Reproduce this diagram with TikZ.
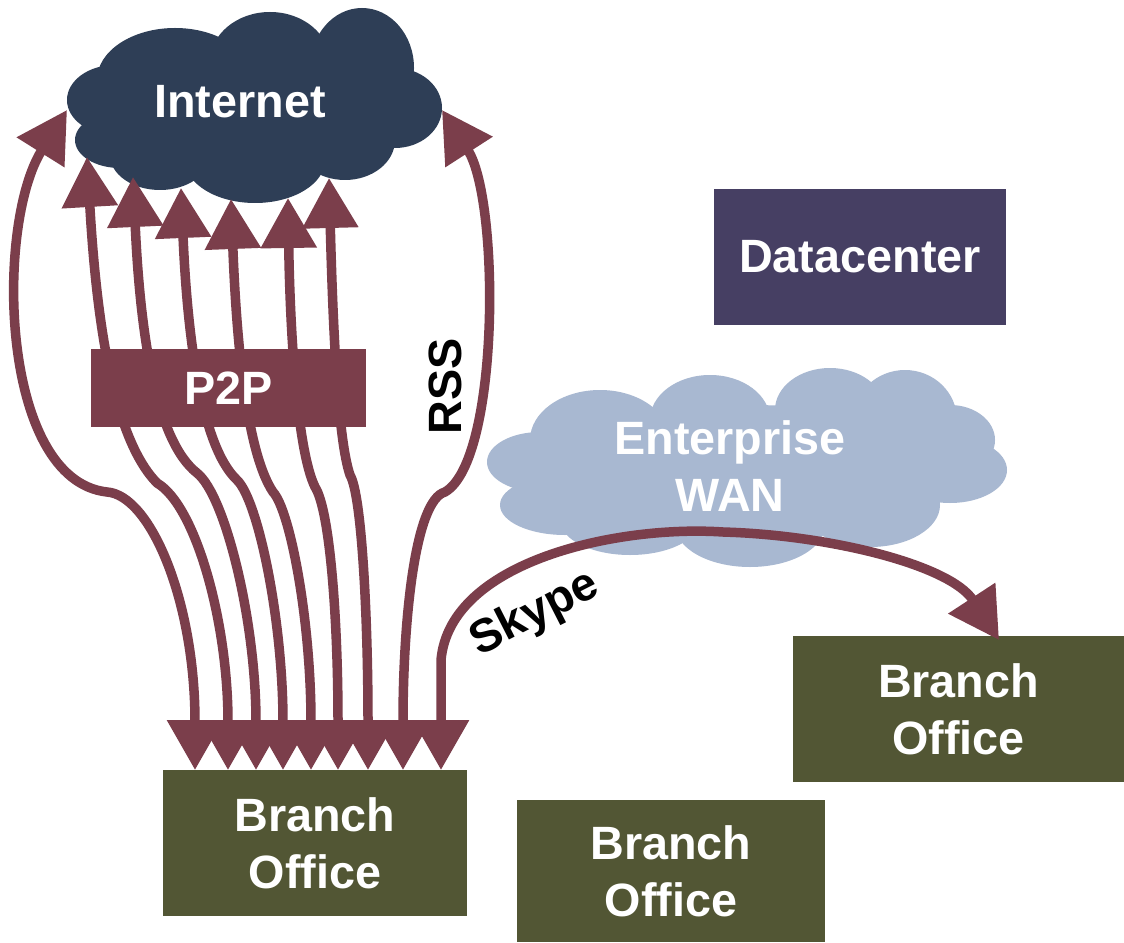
\documentclass[tikz,border=0pt]{standalone}
\usepackage{fontspec}
\setmainfont{Liberation Sans}
\usetikzlibrary{arrows.meta}

\definecolor{netnavy}{HTML}{2E3E56}
\definecolor{wanblue}{HTML}{A8B8D1}
\definecolor{dcpurple}{HTML}{463F63}
\definecolor{officeolive}{HTML}{525634}
\definecolor{wine}{HTML}{7B3E4B}

\tikzset{
  wedge/.tip={Triangle[length=10mm,width=10.8mm]},
  flow/.style={draw=wine, line width=0.19cm, wedge-wedge},
  bigtext/.style={font=\fontsize{26.6pt}{32.3pt}\selectfont\bfseries},
  whitetext/.style={bigtext, text=white, align=center, inner sep=0pt},
  blocknode/.style={whitetext, rectangle},
  tag/.style={bigtext, text=black, inner sep=0pt},
}

\begin{document}
\begin{tikzpicture}[x=0.02cm, y=-0.02cm]
\useasboundingbox (0,0) rectangle (1124,942);
\fill[white] (0,0) rectangle (1124,942);

% Internet cloud, built from overlapping puffs
\begin{scope}[fill=netnavy]
  \fill (255,110) ellipse [x radius=130, y radius=60];
  \fill (115,100) ellipse [x radius=48, y radius=35];
  \fill (120,140) ellipse [x radius=45, y radius=28];
  \fill (175,80)  ellipse [x radius=78, y radius=52];
  \fill (270,62)  ellipse [x radius=60, y radius=50];
  \fill (362,68)  ellipse [x radius=52, y radius=60];
  \fill (395,108) ellipse [x radius=47, y radius=40];
  \fill (345,140) ellipse [x radius=50, y radius=40];
  \fill (255,160) ellipse [x radius=70, y radius=43];
  \fill (160,155) ellipse [x radius=50, y radius=35];
\end{scope}

% Enterprise WAN cloud
\begin{scope}[fill=wanblue]
  \fill (750,465) ellipse [x radius=200, y radius=60];
  \fill (540,462) ellipse [x radius=53, y radius=30];
  \fill (565,505) ellipse [x radius=65, y radius=30];
  \fill (600,440) ellipse [x radius=70, y radius=50];
  \fill (710,420) ellipse [x radius=60, y radius=45];
  \fill (830,410) ellipse [x radius=55, y radius=42];
  \fill (905,420) ellipse [x radius=52, y radius=50];
  \fill (950,440) ellipse [x radius=45, y radius=35];
  \fill (950,470) ellipse [x radius=57, y radius=33];
  \fill (870,505) ellipse [x radius=70, y radius=42];
  \fill (750,525) ellipse [x radius=75, y radius=42];
  \fill (630,520) ellipse [x radius=70, y radius=35];
\end{scope}

\node[whitetext, anchor=base] (internet) at (240,118) {Internet};
\node[whitetext] (wan) at (730,466) {Enterprise\\WAN};

% boxes
\node[blocknode, fill=dcpurple, minimum width=5.84cm, minimum height=2.72cm] (dc) at (860,257) {Datacenter};
\node[blocknode, fill=officeolive, minimum width=6.08cm, minimum height=2.92cm] (bo1) at (315,843) {Branch\\Office};
\node[blocknode, fill=officeolive, minimum width=6.16cm, minimum height=2.86cm] (bo2) at (671,871) {Branch\\Office};
\node[blocknode, fill=officeolive, minimum width=6.62cm, minimum height=2.92cm] (bo3) at (958.5,709) {Branch\\Office};

% connector ends at the Internet cloud
\coordinate (t0) at (67,110);
\coordinate (t1) at (87,157);
\coordinate (t2) at (133,177);
\coordinate (t3) at (181,188);
\coordinate (t4) at (231,199);
\coordinate (t5) at (288,198);
\coordinate (t6) at (329,178);
\coordinate (t7) at (442,110);
% joints where the strands meet
\coordinate (k0) at (107,492);
\coordinate (k1) at (157,483);
\coordinate (k2) at (197,473);
\coordinate (k3) at (237,480);
\coordinate (k4) at (273,492);
\coordinate (k5) at (315,487);
\coordinate (k6) at (350,475);
\coordinate (k7) at (445,492);
% connector ends on the branch office
\coordinate (b0) at (195,770);
\coordinate (b1) at (228,770);
\coordinate (b2) at (256,770);
\coordinate (b3) at (283,770);
\coordinate (b4) at (311,770);
\coordinate (b5) at (338,770);
\coordinate (b6) at (368,770);
\coordinate (b7) at (403,770);
\coordinate (b8) at (441,770);
\coordinate (s1) at (999,640);

% Internet flows
\draw[flow] (t0) .. controls (-5,225) and (0,480) .. (k0) .. controls (150,495) and (195,600) .. (b0);
\draw[flow] (t1) .. controls (97,330) and (115,440) .. (k1) .. controls (195,505) and (228,620) .. (b1);
\draw[flow] (t2) .. controls (140,330) and (155,440) .. (k2) .. controls (225,495) and (256,620) .. (b2);
\draw[flow] (t3) .. controls (187,330) and (200,445) .. (k3) .. controls (258,500) and (283,620) .. (b3);
\draw[flow] (t4) .. controls (236,330) and (245,450) .. (k4) .. controls (290,510) and (311,620) .. (b4);
\draw[flow] (t5) .. controls (290,330) and (297,450) .. (k5) .. controls (330,510) and (338,620) .. (b5);
\draw[flow] (t6) .. controls (333,330) and (338,440) .. (k6) .. controls (362,495) and (368,620) .. (b6);
\draw[flow] (t7) .. controls (500,200) and (500,460) .. (k7) .. controls (415,500) and (403,620) .. (b7);

% Skype call across the WAN
\draw[flow] (b8) -- (441,660) .. controls (450,560) and (620,525) .. (723,532)
  .. controls (830,535) and (950,565) .. (s1);

% P2P band over the strands
\node[blocknode, fill=wine, minimum width=5.5cm, minimum height=1.56cm] (p2p) at (228.5,388) {P2P};

% labels
\node[tag, rotate=90] (rss) at (445,386) {RSS};
\node[tag, rotate=27] (skype) at (535,614) {Skype};
\end{tikzpicture}
\end{document}
